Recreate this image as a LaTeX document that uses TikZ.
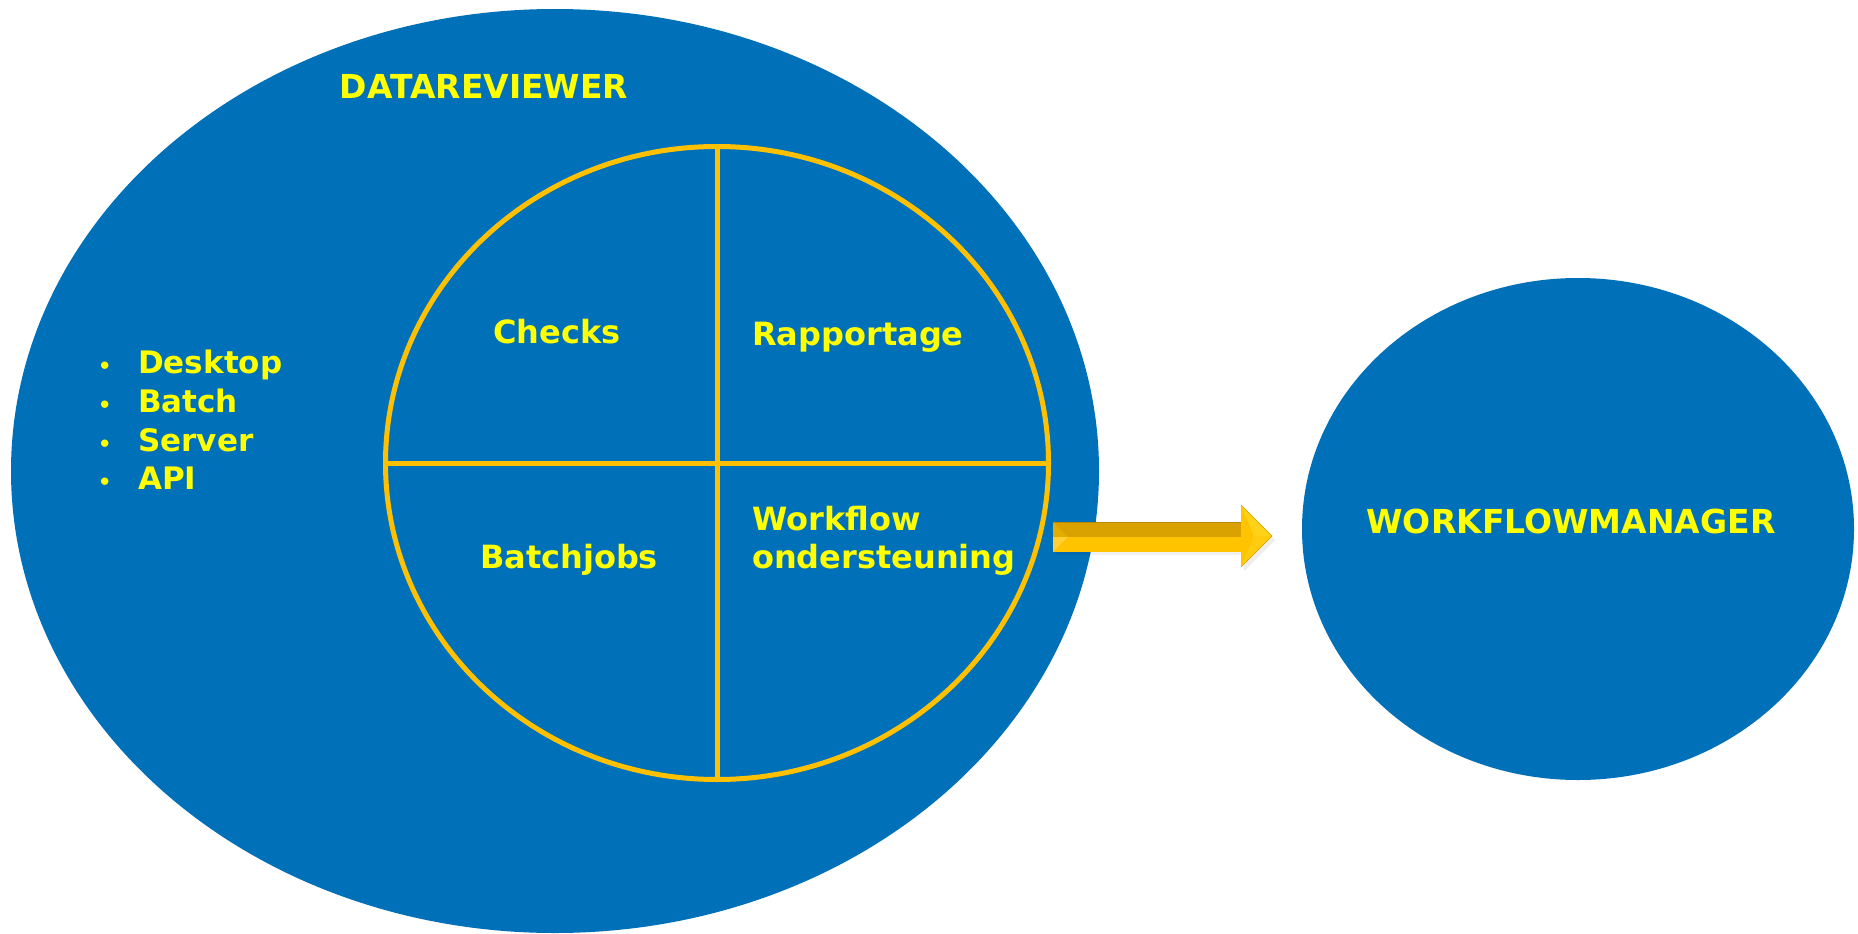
\documentclass[tikz,border=0pt]{standalone}
\usepackage{fontspec}
\setmainfont{DejaVu Sans}
\usetikzlibrary{shapes.geometric}
\definecolor{dblue}{HTML}{0070B9}
\definecolor{ringc}{HTML}{FFC000}
\definecolor{txty}{HTML}{FFFF00}
\definecolor{arrdark}{HTML}{D9A200}
\definecolor{arrlight}{HTML}{FFC300}
\definecolor{arrhead}{HTML}{FFD21A}
\definecolor{arredge}{HTML}{B88A00}
\tikzset{
  blob/.style={ellipse, fill=dblue, draw=none, inner sep=0pt, outer sep=0pt},
  ring/.style={ellipse, draw=ringc, line width=5pt, inner sep=0pt, outer sep=0pt},
  title/.style={text=txty, font=\bfseries\fontsize{33}{38}\selectfont, inner sep=0pt, anchor=base},
  lbl/.style={text=txty, font=\bfseries\fontsize{32}{38}\selectfont, inner sep=0pt, anchor=base},
  item/.style={text=txty, font=\bfseries\fontsize{31}{38}\selectfont, inner sep=0pt, anchor=base west},
}
\begin{document}
\begin{tikzpicture}[x=1pt,y=-1pt]
\useasboundingbox (0,0) rectangle (1858,934);
% ellipses
\node[blob, minimum width=1088pt, minimum height=924pt] (dr) at (555,471) {};
\node[blob, minimum width=552pt, minimum height=502pt] (wm) at (1578,529) {};
\node[ring, minimum width=663pt, minimum height=633pt] (core) at (717,463) {};
\draw[ringc, line width=5pt] (core.north) -- (core.south);
\draw[ringc, line width=5pt] (core.west) -- (core.east);
% texts
\node[title] (t1) at (484,98) {DATAREVIEWER};
\node[title] (t2) at (1571,533) {WORKFLOWMANAGER};
\node[lbl] (c1) at (557,343) {Checks};
\node[lbl] (c2) at (858,345) {Rapportage};
\node[lbl] (c3) at (569,568) {Batchjobs};
\node[lbl, anchor=base west] (c4) at (752,530) {Workflow};
\node[lbl, anchor=base west] (c5) at (752,568) {ondersteuning};
\foreach \t/\y [count=\i] in {Desktop/373,Batch/412,Server/451,API/489}{
  \node[item] (b\i) at (98,\y) {\fontsize{21}{24}\selectfont •};
  \node[item] (l\i) at (138,\y) {\t};
}
% block arrow
\coordinate (atail) at (1053,537);
\coordinate (atip) at (1272,536);
\fill[black, opacity=0.06] (1056,526) rectangle (1246,555);
\fill[black, opacity=0.07] (1244,510) -- (1275,540) -- (1244,571) -- cycle;
\fill[arrlight] (1053,522) rectangle (1246,552);
\fill[arrdark] (1053,522) rectangle (1246,537);
\fill[arrdark!70!arrlight] (1053,522) -- (1068,537) -- (1053,552) -- cycle;
\fill[arrlight!80!white] (1053,537) -- (1068,537) -- (1053,552) -- cycle;
\draw[arredge, line width=0.8pt] (1053,522) -- (1246,522);
\fill[arrlight] (1241,505) -- (atip) -- (1241,567) -- cycle;
\fill[arrhead] (1241,505) -- (atip) -- (1254,536) -- cycle;
\fill[arrhead!60!arrlight] (1241,567) -- (atip) -- (1254,536) -- cycle;
\draw[arredge!60!ringc, line width=0.6pt] (1241,505) -- (atip) -- (1241,567);
\end{tikzpicture}
\end{document}
